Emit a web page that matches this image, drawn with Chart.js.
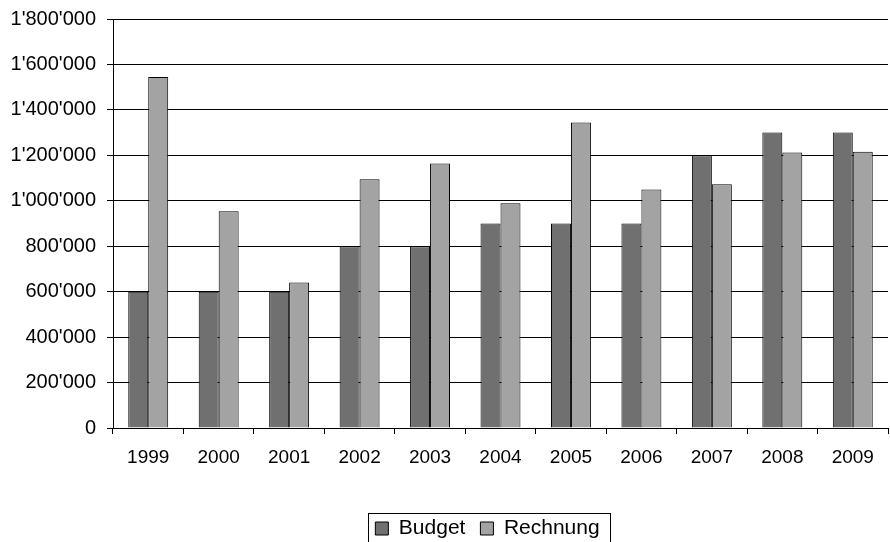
<!DOCTYPE html>
<html lang="de">
<head>
<meta charset="utf-8">
<title>Budget und Rechnung 1999-2009</title>
<script src="https://cdn.jsdelivr.net/npm/chart.js@4/dist/chart.umd.min.js"></script>
<style>
  html, body { margin: 0; padding: 0; background: #ffffff; }
  #chart-wrap { width: 890px; height: 542px; position: relative; }
</style>
</head>
<body>
<div id="chart-wrap"><canvas id="budget-chart"></canvas></div>
<script>
const years = ["1999", "2000", "2001", "2002", "2003", "2004", "2005", "2006", "2007", "2008", "2009"];
const budgetValues = [600000, 600000, 600000, 800000, 800000, 900000, 900000, 900000, 1200000, 1300000, 1300000];
const rechnungValues = [1545000, 954000, 640000, 1095000, 1164000, 989000, 1345000, 1050000, 1073000, 1213000, 1216000];
const yTickMax = 1800000;
const yTickStep = 200000;

const fontFamily = "'Liberation Sans', Arial, sans-serif";

function formatSwiss(value) {
  return String(value).replace(/\B(?=(\d{3})+(?!\d))/g, "'");
}

// shifts the legend a bit to the left, like the original, and draws its frame
const legendFrame = {
  id: "legendFrame",
  afterLayout(chart) {
    const legend = chart.legend;
    legend.left -= 13;
    legend.right -= 13;
  },
  afterDraw(chart) {
    const boxes = chart.legend.legendHitBoxes;
    if (!boxes || !boxes.length) return;
    const first = boxes[0];
    const last = boxes[boxes.length - 1];
    const ctx = chart.ctx;
    const left = Math.round(first.left - 7) + 0.5;
    const right = Math.round(last.left + last.width + 10) + 0.5;
    const top = Math.round(first.top - 5) + 0.5;
    ctx.save();
    ctx.strokeStyle = "#000000";
    ctx.lineWidth = 1;
    ctx.strokeRect(left, top, right - left, chart.height + 10 - top);
    ctx.restore();
  },
};

new Chart(document.getElementById("budget-chart"), {
  type: "bar",
  data: {
    labels: years,
    datasets: [
      {
        label: "Budget",
        data: budgetValues,
        backgroundColor: "#707070",
        borderColor: "#000000",
        borderWidth: 1,
        categoryPercentage: 0.567,
        barPercentage: 1.0,
      },
      {
        label: "Rechnung",
        data: rechnungValues,
        backgroundColor: "#a3a3a3",
        borderColor: "#000000",
        borderWidth: 1,
        categoryPercentage: 0.567,
        barPercentage: 1.0,
      },
    ],
  },
  options: {
    responsive: true,
    maintainAspectRatio: false,
    animation: false,
    layout: {
      padding: { top: 19, right: 2, bottom: -7, left: 0 },
    },
    plugins: {
      tooltip: { enabled: false },
      legend: {
        position: "bottom",
        fullSize: false,
        labels: {
          color: "#000000",
          font: { family: fontFamily, size: 21 },
          boxWidth: 13,
          boxHeight: 13,
          padding: 15,
        },
      },
    },
    scales: {
      x: {
        grid: {
          offset: true,
          drawOnChartArea: false,
          drawTicks: true,
          tickLength: 6,
          color: "#000000",
        },
        border: { color: "#000000", width: 1 },
        ticks: {
          color: "#000000",
          font: { family: fontFamily, size: 19 },
          padding: 12,
          maxRotation: 0,
        },
        afterFit(scale) {
          scale.height = 75;
        },
      },
      y: {
        min: 0,
        max: yTickMax,
        grid: {
          color: "#000000",
          lineWidth: 1,
          drawTicks: true,
          tickLength: 6,
        },
        border: { color: "#000000", width: 1 },
        ticks: {
          stepSize: yTickStep,
          color: "#000000",
          font: { family: fontFamily, size: 20 },
          padding: 11,
          callback: (value) => formatSwiss(value),
        },
        afterFit(scale) {
          scale.width = 113;
          scale.paddingTop = 0;
          scale.paddingBottom = 0;
        },
      },
    },
  },
  plugins: [legendFrame],
});
</script>
</body>
</html>
